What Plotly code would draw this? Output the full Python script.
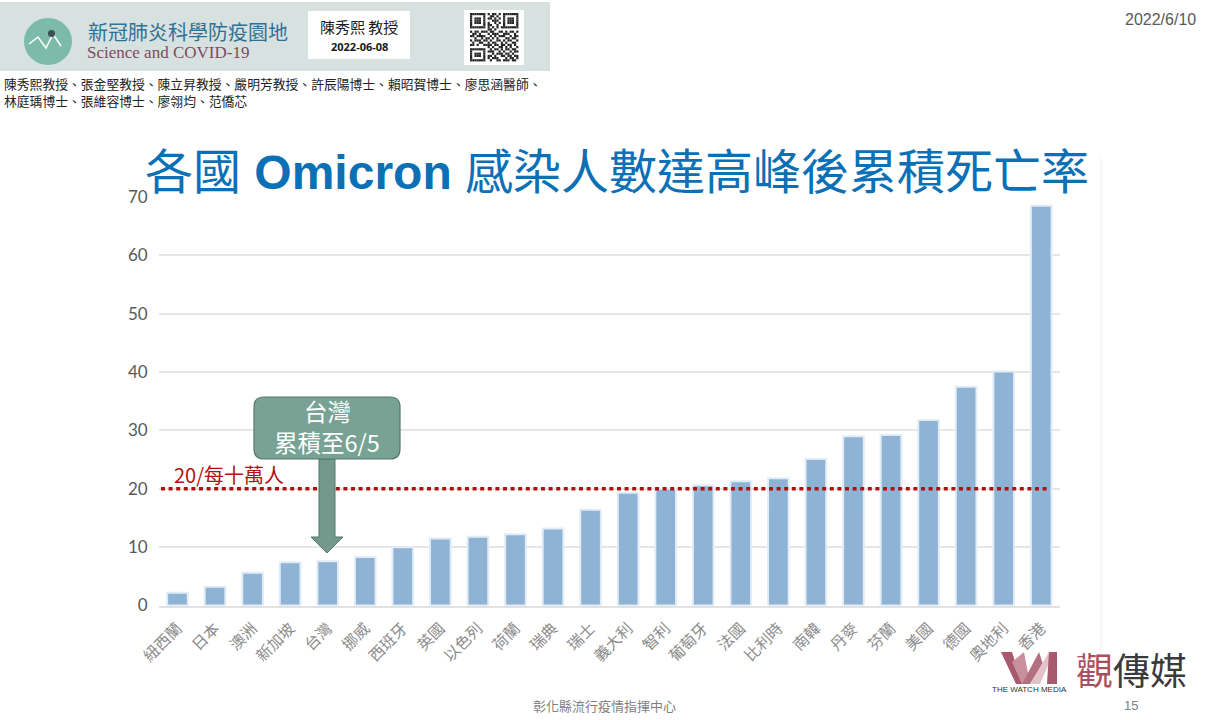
import plotly.graph_objects as go

W = 1209
H = 720
CJK = "Noto Sans CJK TC"

countries = ["紐西蘭", "日本", "澳洲", "新加坡", "台灣", "挪威", "西班牙", "英國", "以色列", "荷蘭", "瑞典", "瑞士",
             "義大利", "智利", "葡萄牙", "法國", "比利時", "南韓", "丹麥", "芬蘭", "美國", "德國", "奧地利", "香港"]
death_rate = [2.2, 3.2, 5.6, 7.4, 7.6, 8.3, 10.0, 11.5, 11.8, 12.2, 13.2, 16.4,
              19.3, 20.0, 20.6, 21.3, 21.8, 25.1, 29.0, 29.2, 31.8, 37.5, 40.1, 68.5]
threshold = 20
y_ticks = [0, 10, 20, 30, 40, 50, 60, 70]

authors_1 = "陳秀熙教授、張金堅教授、陳立昇教授、嚴明芳教授、許辰陽博士、賴昭賀博士、廖思涵醫師、"
authors_2 = "林庭瑀博士、張維容博士、廖翎均、范僑芯"

# qr code in the banner, only roughly what the picture shows
qr_rows = ["1111111010110101111111",
           "1000001001101001000001",
           "1011101011010101011101",
           "1011101000111001011101",
           "1011101010010101011101",
           "1000001011001001000001",
           "1111111010101011111111",
           "0000000011010000000000",
           "1011011101100110101101",
           "0110100010111001110010",
           "1101111001010111001011",
           "0010010110101000110110",
           "1011101101001101011001",
           "0100110010110010100110",
           "1101001111011011011010",
           "0000000010100110101001",
           "1111111001011010110110",
           "1000001011100101001011",
           "1011101000101110110100",
           "1011101011010011011011",
           "1000001010111000101101",
           "1111111001001101110110"]


# pixel position in the picture -> paper coordinates
def px(x):
    return x / W


def py(y):
    return 1 - y / H


def box(x0, y0, x1, y1, fill, line=None, width=0, kind="rect"):
    return dict(type=kind, xref="paper", yref="paper", x0=px(x0), x1=px(x1), y0=py(y0), y1=py(y1),
                fillcolor=fill, line=dict(color=line or fill, width=width), layer="above")


def poly(points, fill=None, line=None, width=0):
    d = "M " + " L ".join(f"{px(x):.5f},{py(y):.5f}" for x, y in points)
    if fill:
        d += " Z"
    return dict(type="path", xref="paper", yref="paper", path=d, fillcolor=fill or "rgba(0,0,0,0)",
                line=dict(color=line or "rgba(0,0,0,0)", width=width), layer="above")


def rounded(x0, y0, x1, y1, r, fill, line, width):
    d = (f"M {px(x0 + r)},{py(y0)} L {px(x1 - r)},{py(y0)} Q {px(x1)},{py(y0)} {px(x1)},{py(y0 + r)} "
         f"L {px(x1)},{py(y1 - r)} Q {px(x1)},{py(y1)} {px(x1 - r)},{py(y1)} "
         f"L {px(x0 + r)},{py(y1)} Q {px(x0)},{py(y1)} {px(x0)},{py(y1 - r)} "
         f"L {px(x0)},{py(y0 + r)} Q {px(x0)},{py(y0)} {px(x0 + r)},{py(y0)} Z")
    return dict(type="path", xref="paper", yref="paper", path=d, fillcolor=fill,
                line=dict(color=line, width=width), layer="above")


def label(x, y, text, size, color, anchor="center", family=CJK, align="center"):
    return dict(xref="paper", yref="paper", x=px(x), y=py(y), text=text, showarrow=False, xanchor=anchor,
                yanchor="middle", align=align, font=dict(size=size, color=color, family=family))


fig = go.Figure()
fig.add_trace(go.Bar(x=countries, y=death_rate, width=0.55, hoverinfo="skip",
                     marker=dict(color="#8FB3D4", line=dict(color="#E1ECF6", width=2))))

shapes = []
# banner
shapes.append(box(0, 2, 550, 71, "#D6E1E0"))
shapes.append(box(24, 18, 72, 65, "#7DBBA9", kind="circle"))
shapes.append(poly([(29, 44), (38, 37), (46, 48), (53, 34), (61, 46)], line="white", width=1.5))
shapes.append(box(48, 30, 55, 37, "#3D4F55", kind="circle"))
shapes.append(box(308, 11, 410, 59, "white"))
shapes.append(box(464, 10, 524, 65, "white"))
cell = 2.2
for r, row in enumerate(qr_rows):
    for c, v in enumerate(row):
        if v == "1":
            shapes.append(box(470 + c * cell, 13 + r * cell, 470 + (c + 1) * cell, 13 + (r + 1) * cell, "#262626"))

# chart frame, threshold line, callout
shapes.append(dict(type="line", xref="paper", yref="paper", x0=px(1101), x1=px(1101), y0=py(158), y1=py(652),
                   line=dict(color="#EDEDED", width=1), layer="below"))
shapes.append(dict(type="line", xref="paper", yref="y", x0=px(161), x1=px(1048), y0=threshold, y1=threshold,
                   line=dict(color="#B01010", width=3.5, dash="4px,3.6px"), layer="above"))
shapes.append(poly([(319, 459), (335, 459), (335, 537), (343, 537), (327, 553), (311, 537), (319, 537)],
                   fill="#72998C", line="#55796D", width=1))
shapes.append(rounded(254, 397, 400, 459, 10, "#78A294", "#55796D", 1.2))

# watch media logo
shapes.append(poly([(1001, 652), (1012, 652), (1022, 684), (1016, 684)], fill="#A85A6C"))
shapes.append(poly([(1012, 662), (1024, 652), (1030, 684), (1022, 684)], fill="#C98F9C"))
shapes.append(poly([(1022, 684), (1039, 652), (1043, 664), (1030, 684)], fill="#B5707F"))
shapes.append(poly([(1030, 684), (1049, 652), (1054, 652), (1040, 684)], fill="#E3C3CA"))
shapes.append(poly([(1049, 652), (1057, 652), (1057, 684), (1047, 684)], fill="#A85A6C"))

annotations = [
    label(1198, 19, "2022/6/10", 16, "#595959", anchor="right", family="Liberation Sans"),
    label(86, 32, "新冠肺炎科學防疫園地", 20, "#2F7196", anchor="left"),
    label(85, 53, "Science and COVID-19", 17, "#7E4A63", anchor="left", family="Liberation Serif"),
    label(359, 27, "陳秀熙 教授", 15, "#1A1A1A"),
    label(359, 46, "<b>2022-06-08</b>", 11, "#1A1A1A", family="Open Sans"),
    label(2, 92, authors_1 + "<br>" + authors_2, 12.8, "#222222", anchor="left", align="left"),
    label(617, 172, "各國 <b>Omicron</b> 感染人數達高峰後累積死亡率", 48, "#0B70B5",
          family="Liberation Sans, " + CJK),
    label(172, 474, "20/每十萬人", 20, "#B01010", anchor="left"),
    label(327, 411, "台灣", 23.5, "white"),
    label(327, 442, "累積至6/5", 23.5, "white"),
    label(604, 705, "彰化縣流行疫情指揮中心", 13, "#808080"),
    label(1131, 705, "15", 13, "#808080", family="Liberation Sans"),
    label(1074, 669, "<span style='color:#A8505F'>觀</span>傳媒", 37, "#3A3A3A", anchor="left"),
    label(1029, 689, "THE WATCH MEDIA", 8, "#333333", family="Liberation Sans"),
]

fig.update_layout(
    width=W,
    height=H,
    margin=dict(l=0, r=0, t=0, b=0),
    paper_bgcolor="white",
    plot_bgcolor="white",
    showlegend=False,
    shapes=shapes,
    annotations=annotations,
    font=dict(family=CJK),
    xaxis=dict(domain=[px(158.7), px(1060)], range=[-0.5, 23.5], tickangle=-45, showgrid=False, ticks="",
               automargin=False, showline=True, linecolor="#E2E2E2", linewidth=1.5, zeroline=False,
               ticklabelstandoff=6, tickfont=dict(size=15.5, color="#8C8C8C", family=CJK)),
    yaxis=dict(domain=[py(605.5), py(197)], range=[0, 70], tickvals=y_ticks, gridcolor="#E6E6E6", gridwidth=1.5,
               automargin=False, zeroline=False, ticks="", ticklabelstandoff=10,
               tickfont=dict(size=17, color="#595959", family="Lato")),
)

fig.write_html("out.html", config=dict(displayModeBar=False),
               post_script="document.body.style.margin='0';document.body.style.overflow='hidden';")
